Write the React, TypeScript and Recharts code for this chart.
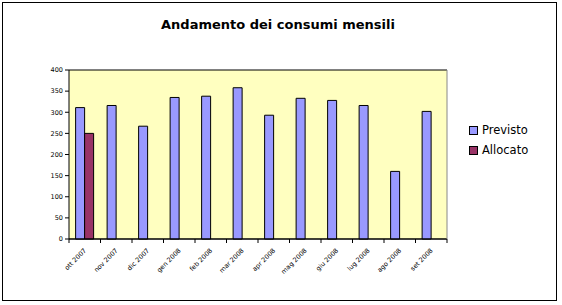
import { BarChart, Bar, XAxis, YAxis, CartesianGrid } from "recharts";

const mesi = [
  "ott 2007", "nov 2007", "dic 2007", "gen 2008", "feb 2008", "mar 2008",
  "apr 2008", "mag 2008", "giu 2008", "lug 2008", "ago 2008", "set 2008",
];
const previsto = [311, 316, 267, 335, 338, 358, 293, 333, 328, 316, 160, 302];
const allocato: (number | null)[] = [250, null, null, null, null, null, null, null, null, null, null, null];
const yTicks = [0, 50, 100, 150, 200, 250, 300, 350, 400];

const data = mesi.map((mese, i) => ({ mese, previsto: previsto[i], allocato: allocato[i] }));

const FONT = "Tahoma, 'DejaVu Sans', sans-serif";
const HALF_CAT = 378 / mesi.length / 2;

const MonthTick = (props: any) => {
  const { x, y, payload, index } = props;
  return (
    <g>
      {index === 0 && <line x1={x - HALF_CAT} x2={x - HALF_CAT} y1={y - 8} y2={y - 4} stroke="#000" />}
      <line x1={x + HALF_CAT} x2={x + HALF_CAT} y1={y - 8} y2={y - 4} stroke="#000" />
      <text
        x={x + 2}
        y={y + 4}
        textAnchor="end"
        fontSize={6.5}
        fontFamily={FONT}
        fill="#000"
        transform={`rotate(-45, ${x + 2}, ${y + 4})`}
      >
        {payload.value}
      </text>
    </g>
  );
};

const series = [
  { name: "Previsto", color: "#9999FF" },
  { name: "Allocato", color: "#993366" },
];

export default function App() {
  return (
    <div style={{ position: "absolute", left: 0, top: 0, width: 562, height: 305, background: "#fff" }}>
      <div
        style={{
          position: "absolute",
          left: 2,
          top: 2,
          width: 555,
          height: 299,
          border: "1px solid #000",
          boxSizing: "border-box",
        }}
      />
      <div
        style={{
          position: "absolute",
          left: 0,
          width: 556,
          top: 17,
          textAlign: "center",
          fontFamily: FONT,
          fontWeight: "bold",
          fontSize: 13,
          color: "#000",
        }}
      >
        Andamento dei consumi mensili
      </div>
      <div style={{ position: "absolute", left: 0, top: 0 }}>
        <BarChart
          width={562}
          height={305}
          data={data}
          margin={{ top: 70, right: 114, bottom: 0, left: 0 }}
          barCategoryGap="21%"
          barGap={0}
        >
          <CartesianGrid fill="#FFFFC0" stroke="#000" vertical={false} />
          <XAxis
            dataKey="mese"
            height={66}
            interval={0}
            axisLine={{ stroke: "#000" }}
            tickLine={false}
            tick={<MonthTick />}
          />
          <YAxis
            yAxisId="left"
            width={69}
            domain={[0, 400]}
            ticks={yTicks}
            interval={0}
            axisLine={{ stroke: "#000" }}
            tickLine={{ stroke: "#000" }}
            tickSize={4}
            tick={{ fontSize: 6.5, fontFamily: FONT, fill: "#000" }}
          />
          <YAxis
            yAxisId="right"
            orientation="right"
            width={1}
            domain={[0, 400]}
            tick={false}
            tickLine={false}
            axisLine={{ stroke: "#888" }}
          />
          <Bar yAxisId="left" dataKey="previsto" name="Previsto" fill="#9999FF" stroke="#000" strokeWidth={1} isAnimationActive={false} />
          <Bar yAxisId="left" dataKey="allocato" name="Allocato" fill="#993366" stroke="#000" strokeWidth={1} isAnimationActive={false} />
        </BarChart>
      </div>
      <div
        style={{
          position: "absolute",
          left: 469,
          top: 120,
          fontFamily: FONT,
          fontSize: 11.5,
          color: "#000",
          lineHeight: "20px",
        }}
      >
        {series.map((it) => (
          <div key={it.name} style={{ display: "flex", alignItems: "center" }}>
            <span style={{ width: 7, height: 7, background: it.color, border: "1px solid #000", marginRight: 4 }} />
            {it.name}
          </div>
        ))}
      </div>
    </div>
  );
}
